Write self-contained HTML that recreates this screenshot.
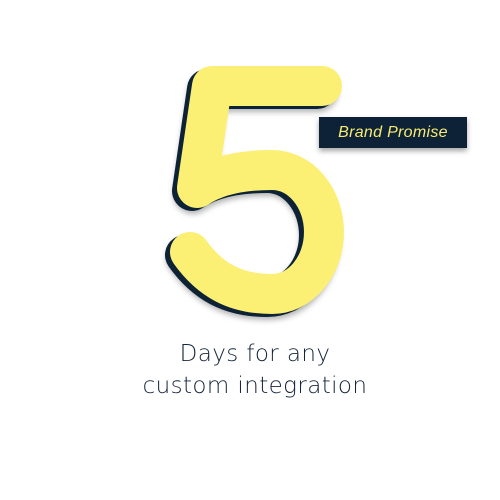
<!DOCTYPE html>
<html><head><style>
html,body{margin:0;padding:0;background:#fff;width:500px;height:500px;overflow:hidden}
.lbl{position:absolute;left:319px;top:117px;width:148px;height:31px;background:#0d2236;box-shadow:0 3px 5px rgba(0,0,0,.35);color:#f7ec73;font:italic 16px "Liberation Sans",sans-serif;line-height:31px;text-align:center;letter-spacing:.3px}
.t{position:absolute;left:0;width:510px;text-align:center;font:23px "DejaVu Sans","Liberation Sans",sans-serif;font-weight:200;color:#15253b;letter-spacing:.4px}
</style></head><body>
<svg width="500" height="500" style="position:absolute;left:0;top:0">
<defs><filter id="s" x="-20%" y="-20%" width="140%" height="140%"><feDropShadow dx="1" dy="3" stdDeviation="3" flood-opacity="0.3"/></filter></defs>
<g fill="none" stroke-linecap="round" stroke-linejoin="round" stroke-width="40">
<path transform="translate(-5,3)" stroke="#0d2236" filter="url(#s)" d="M322,86 L212,86 L197,188 C215,176 240,170 272,170 A52 62 0 0 1 272,294 C235,294 210,280 190,252"/>
<path stroke="#fbef74" d="M322,86 L212,86 L197,188 C215,176 240,170 272,170 A52 62 0 0 1 272,294 C235,294 210,280 190,252"/>
</g>
</svg>
<div class="lbl">Brand Promise</div>
<div class="t" style="top:341px">Days for any</div>
<div class="t" style="top:373px">custom integration</div>
</body></html>
